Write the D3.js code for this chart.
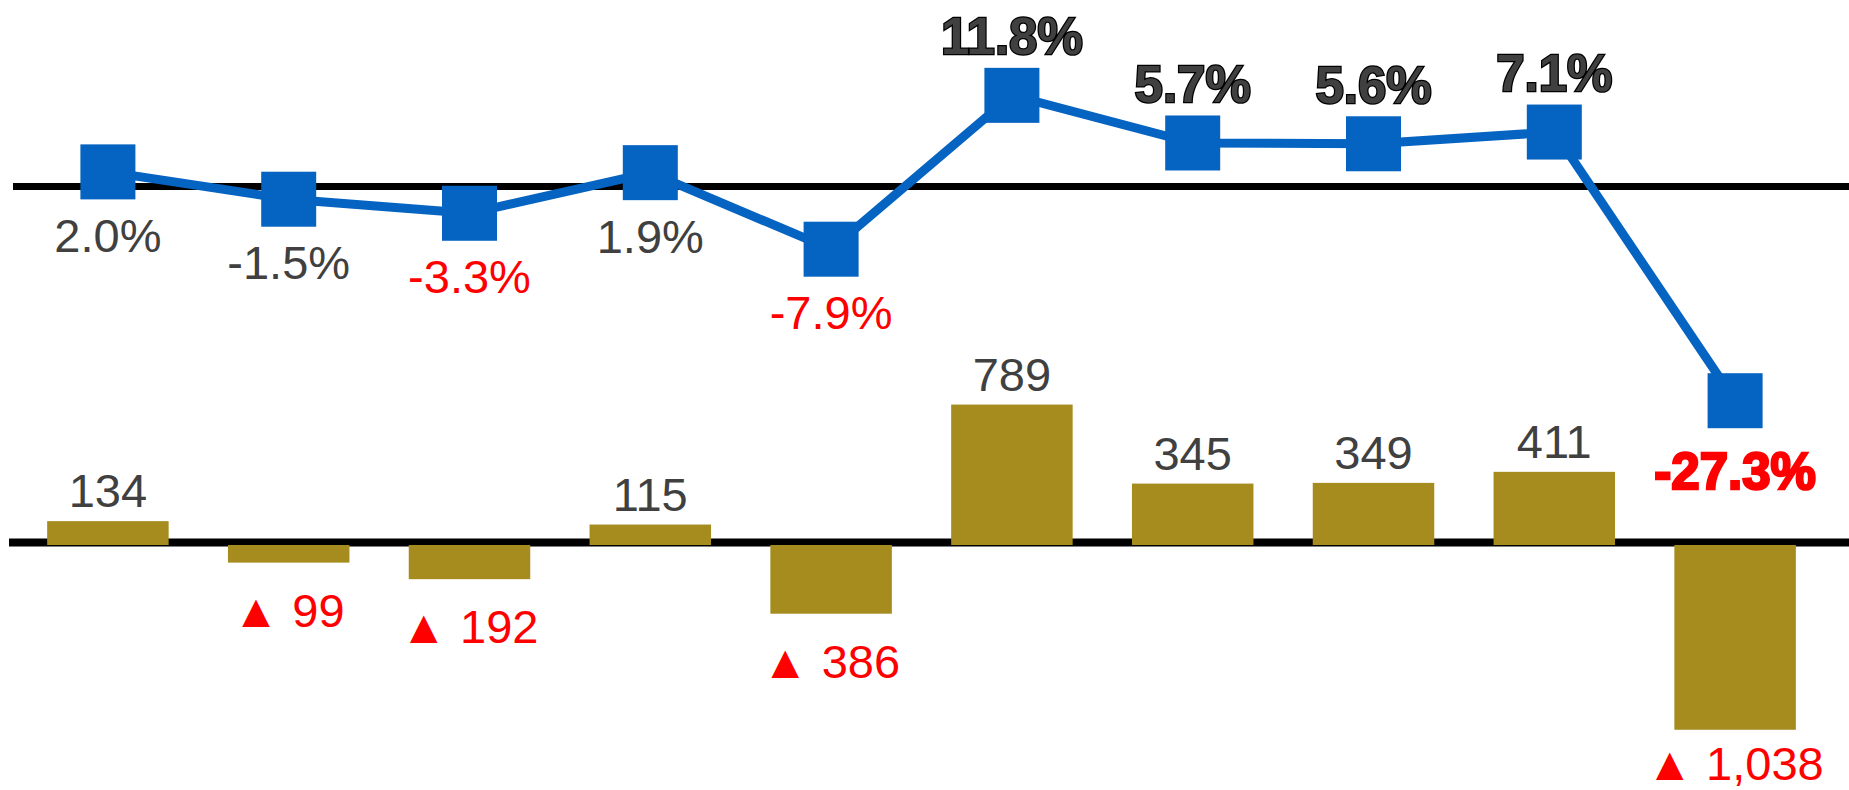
<!DOCTYPE html>
<meta charset="utf-8">
<script src="https://d3js.org/d3.v7.min.js"></script>
<style>
  body { margin: 0; background: #fff; }
  text { font-family: "Liberation Sans", Arial, sans-serif; }
</style>
<div id="chart"></div>
<script>

    // data
    var periods = ["P1", "P2", "P3", "P4", "P5", "P6", "P7", "P8", "P9", "P10"];
    var growthPct = [2.0, -1.5, -3.3, 1.9, -7.9, 11.8, 5.7, 5.6, 7.1, -27.3];
    var diffValues = [134, -99, -192, 115, -386, 789, 345, 349, 411, -1038];

    var width = 1849, height = 790;

    var svg = d3.select("#chart")
        .append("svg")
            .attr("width", width)
            .attr("height", height);

    var x = d3.scaleBand()
        .domain(periods)
        .range([17.5, 1825.5])
        .paddingInner(0.328)
        .paddingOuter(0.164);

    // line series (upper part), black line is its zero
    var yLine = d3.scaleLinear().domain([0, 10]).range([187.5, 109.4]);
    // bar series (lower part)
    var yBar = d3.scaleLinear().domain([0, 1000]).range([545, 367]);

    var blue = "#0563C1", gold = "#A68C1E", grey = "#404040", red = "#FF0000";
    var cx = function (d, i) { return x(periods[i]) + x.bandwidth() / 2; };

    // zero lines
    svg.append("line")
        .attr("x1", 13).attr("x2", width)
        .attr("y1", yLine(0) - 1).attr("y2", yLine(0) - 1)
        .attr("stroke", "#000").attr("stroke-width", 7);

    svg.append("line")
        .attr("x1", 9).attr("x2", width)
        .attr("y1", yBar(0) - 2.5).attr("y2", yBar(0) - 2.5)
        .attr("stroke", "#000").attr("stroke-width", 8);

    // bars
    svg.selectAll("rect.bar")
        .data(diffValues)
        .enter()
        .append("rect")
        .attr("class", "bar")
        .attr("x", function (d, i) { return x(periods[i]); })
        .attr("width", x.bandwidth())
        .attr("y", function (d) { return d >= 0 ? yBar(d) : yBar(0); })
        .attr("height", function (d) { return Math.abs(yBar(d) - yBar(0)); })
        .attr("fill", gold);

    // bar labels (negatives shown as ▲ n, kept inside the page)
    var fmt = d3.format(",");
    svg.selectAll("text.barlabel")
        .data(diffValues)
        .enter()
        .append("text")
        .attr("class", "barlabel")
        .attr("x", cx)
        .attr("y", function (d) {
            return d >= 0 ? yBar(d) - 14 : Math.min(yBar(d) + 64, height - 10);
        })
        .attr("text-anchor", "middle")
        .style("font-size", "47px")
        .attr("fill", function (d) { return d >= 0 ? grey : red; })
        .text(function (d) { return d >= 0 ? fmt(d) : "\u25B2 " + fmt(-d); });

    // line
    var line = d3.line()
        .x(function (d, i) { return cx(d, i); })
        .y(function (d) { return yLine(d); });

    svg.append("path")
        .datum(growthPct)
        .attr("d", line)
        .attr("fill", "none")
        .attr("stroke", blue)
        .attr("stroke-width", 9)
        .attr("stroke-linejoin", "round");

    var m = 55;
    svg.selectAll("rect.marker")
        .data(growthPct)
        .enter()
        .append("rect")
        .attr("class", "marker")
        .attr("x", function (d, i) { return cx(d, i) - m / 2; })
        .attr("y", function (d) { return yLine(d) - m / 2; })
        .attr("width", m)
        .attr("height", m)
        .attr("fill", blue);

    // line labels: big moves get bold, drops get red, strong gains go above
    var isBold = function (d) { return d > 5 || d < -20; };
    var isAbove = function (d) { return d > 5; };

    svg.selectAll("text.linelabel")
        .data(growthPct)
        .enter()
        .append("text")
        .attr("class", "linelabel")
        .attr("x", cx)
        .attr("y", function (d) {
            if (isAbove(d)) return yLine(d) - 41;
            return yLine(d) + (isBold(d) ? 88 : 80);
        })
        .attr("text-anchor", "middle")
        .style("font-size", function (d) { return isBold(d) ? "51px" : "47px"; })
        .style("font-weight", function (d) { return isBold(d) ? "bold" : "normal"; })
        .style("paint-order", "stroke")
        .attr("fill", function (d) { return d <= -3 ? red : grey; })
        .attr("stroke", function (d) { return !isBold(d) ? "none" : (d < 0 ? red : "#000"); })
        .attr("stroke-width", function (d) { return isBold(d) ? 2.5 : 0; })
        .text(function (d) { return d.toFixed(1) + "%"; });

</script>
